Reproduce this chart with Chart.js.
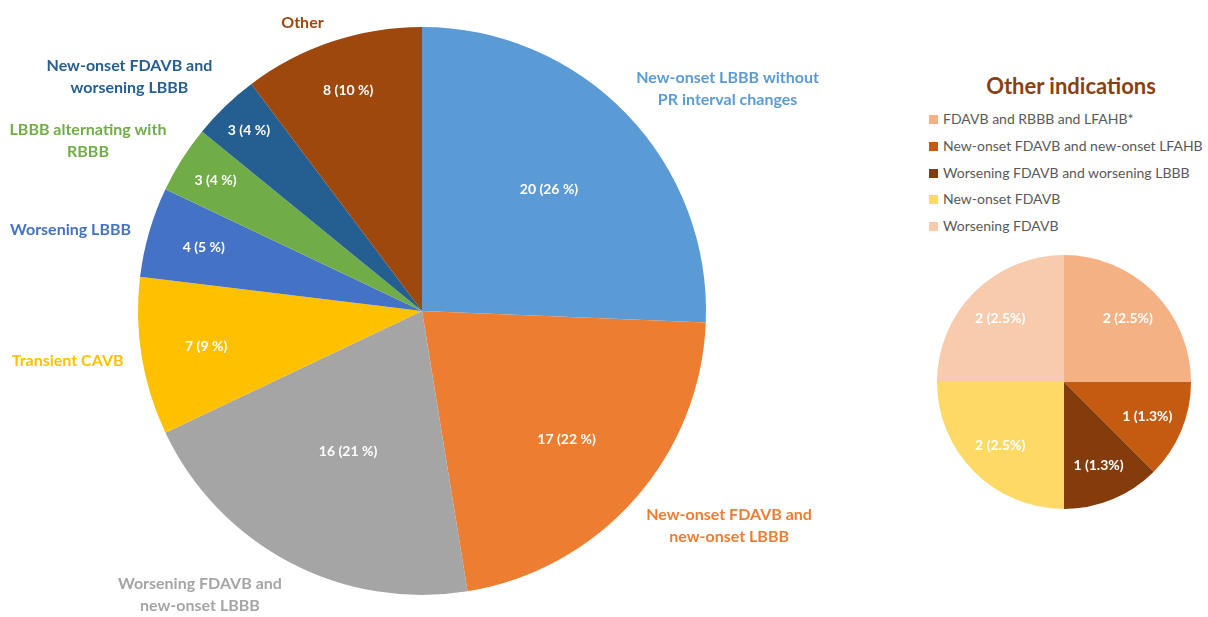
<!DOCTYPE html>
<html>
<head>
<meta charset="utf-8">
<script src="https://cdn.jsdelivr.net/npm/chart.js@4"></script>
<style>
  body { margin: 0; background: #fff; width: 1208px; height: 617px; overflow: hidden; position: relative; font-family: Lato, "Open Sans", sans-serif; }
  #mainChart { position: absolute; left: 0; top: 0; }
  #otherChart { position: absolute; left: 937px; top: 255px; }
  #otherTitle { position: absolute; left: 960px; width: 222px; top: 72px; text-align: center; font-weight: bold; font-size: 22px; color: #8a3f11; }
  #otherLegend { position: absolute; left: 929px; top: 109px; font-size: 14px; color: #595959; }
  #otherLegend div { height: 26.8px; line-height: 20px; white-space: nowrap; }
  #otherLegend span { display: inline-block; width: 9px; height: 9px; margin-right: 5px; vertical-align: 0px; }
</style>
</head>
<body>
<canvas id="mainChart" width="880" height="617"></canvas>
<div id="otherTitle">Other indications</div>
<div id="otherLegend"></div>
<canvas id="otherChart" width="254" height="254"></canvas>
<script>
// Main chart data
const mainLabels = [
    ['New-onset LBBB without', 'PR interval changes'],
    ['New-onset FDAVB and', 'new-onset LBBB'],
    ['Worsening FDAVB and', 'new-onset LBBB'],
    ['Transient CAVB'],
    ['Worsening LBBB'],
    ['LBBB alternating with', 'RBBB'],
    ['New-onset FDAVB and', 'worsening LBBB'],
    ['Other']
];
const mainValues = [20, 17, 16, 7, 4, 3, 3, 8];
const mainPercents = [26, 22, 21, 9, 5, 4, 4, 10];
const mainColors = ['#5B9BD5', '#ED7D31', '#A5A5A5', '#FFC000', '#4472C4', '#70AD47', '#255E91', '#9E480E'];

// "Other indications" data
const otherLabels = [
    'FDAVB and RBBB and LFAHB*',
    'New-onset FDAVB and new-onset LFAHB',
    'Worsening FDAVB and worsening LBBB',
    'New-onset FDAVB',
    'Worsening FDAVB'
];
const otherValues = [2, 1, 1, 2, 2];
const otherPercents = [2.5, 1.3, 1.3, 2.5, 2.5];
const otherColors = ['#F4B183', '#C55A11', '#843C0C', '#FFD966', '#F8CBAD'];

const FONT = 'Lato, "Open Sans", sans-serif';

// draws the value labels inside the slices and the category names outside
const sliceLabels = {
    id: 'sliceLabels',
    afterDatasetsDraw(chart, args, opts) {
        const ctx = chart.ctx;
        const meta = chart.getDatasetMeta(0);
        ctx.save();
        ctx.textAlign = 'center';
        ctx.textBaseline = 'middle';
        meta.data.forEach((arc, i) => {
            const mid = (arc.startAngle + arc.endAngle) / 2;
            const f = Array.isArray(opts.inner) ? opts.inner[i] : opts.inner;
            ctx.font = opts.font;
            ctx.fillStyle = '#fff';
            ctx.fillText(opts.texts[i], arc.x + Math.cos(mid) * arc.outerRadius * f,
                arc.y + Math.sin(mid) * arc.outerRadius * f);

            if (opts.outer) {
                const o = opts.outer[i];
                const a = o[0] * Math.PI / 180;
                const cx = arc.x + Math.cos(a) * arc.outerRadius * o[1];
                const cy = arc.y + Math.sin(a) * arc.outerRadius * o[1];
                const lines = opts.names[i];
                ctx.font = opts.outerFont;
                ctx.fillStyle = opts.colors[i];
                lines.forEach((line, j) => {
                    ctx.fillText(line, cx, cy + (j - (lines.length - 1) / 2) * 22);
                });
            }
        });
        ctx.restore();
    }
};

new Chart(document.getElementById('mainChart'), {
    type: 'pie',
    data: {
        labels: mainLabels.map(l => l.join(' ')),
        datasets: [{
            data: mainValues,
            backgroundColor: mainColors,
            borderWidth: 0
        }]
    },
    options: {
        responsive: false,
        animation: false,
        devicePixelRatio: 1,
        layout: { padding: { left: 138, right: 174, top: 27, bottom: 22 } },
        plugins: {
            legend: { display: false },
            tooltip: { enabled: false },
            sliceLabels: {
                font: 'bold 14px ' + FONT,
                outerFont: 'bold 16px ' + FONT,
                texts: mainValues.map((v, i) => v + ' (' + mainPercents[i] + ' %)'),
                names: mainLabels,
                colors: mainColors,
                inner: [0.62, 0.68, 0.56, 0.77, 0.80, 0.86, 0.88, 0.82],
                // [angle in degrees, distance in radii] of each name block
                outer: [[-36, 1.33], [35, 1.32], [128, 1.27], [172, 1.26], [193, 1.27], [207, 1.32], [218.7, 1.32], [247.5, 1.10]]
            }
        }
    },
    plugins: [sliceLabels]
});

new Chart(document.getElementById('otherChart'), {
    type: 'pie',
    data: {
        labels: otherLabels,
        datasets: [{
            data: otherValues,
            backgroundColor: otherColors,
            borderWidth: 0
        }]
    },
    options: {
        responsive: false,
        animation: false,
        devicePixelRatio: 1,
        plugins: {
            legend: { display: false },
            tooltip: { enabled: false },
            sliceLabels: {
                font: 'bold 14px ' + FONT,
                texts: otherValues.map((v, i) => v + ' (' + otherPercents[i] + '%)'),
                inner: 0.71
            }
        }
    },
    plugins: [sliceLabels]
});

// HTML legend for the small chart
const legendBox = document.getElementById('otherLegend');
otherLabels.forEach((label, i) => {
    const row = document.createElement('div');
    const sw = document.createElement('span');
    sw.style.background = otherColors[i];
    row.appendChild(sw);
    row.appendChild(document.createTextNode(label));
    legendBox.appendChild(row);
});
</script>
</body>
</html>
